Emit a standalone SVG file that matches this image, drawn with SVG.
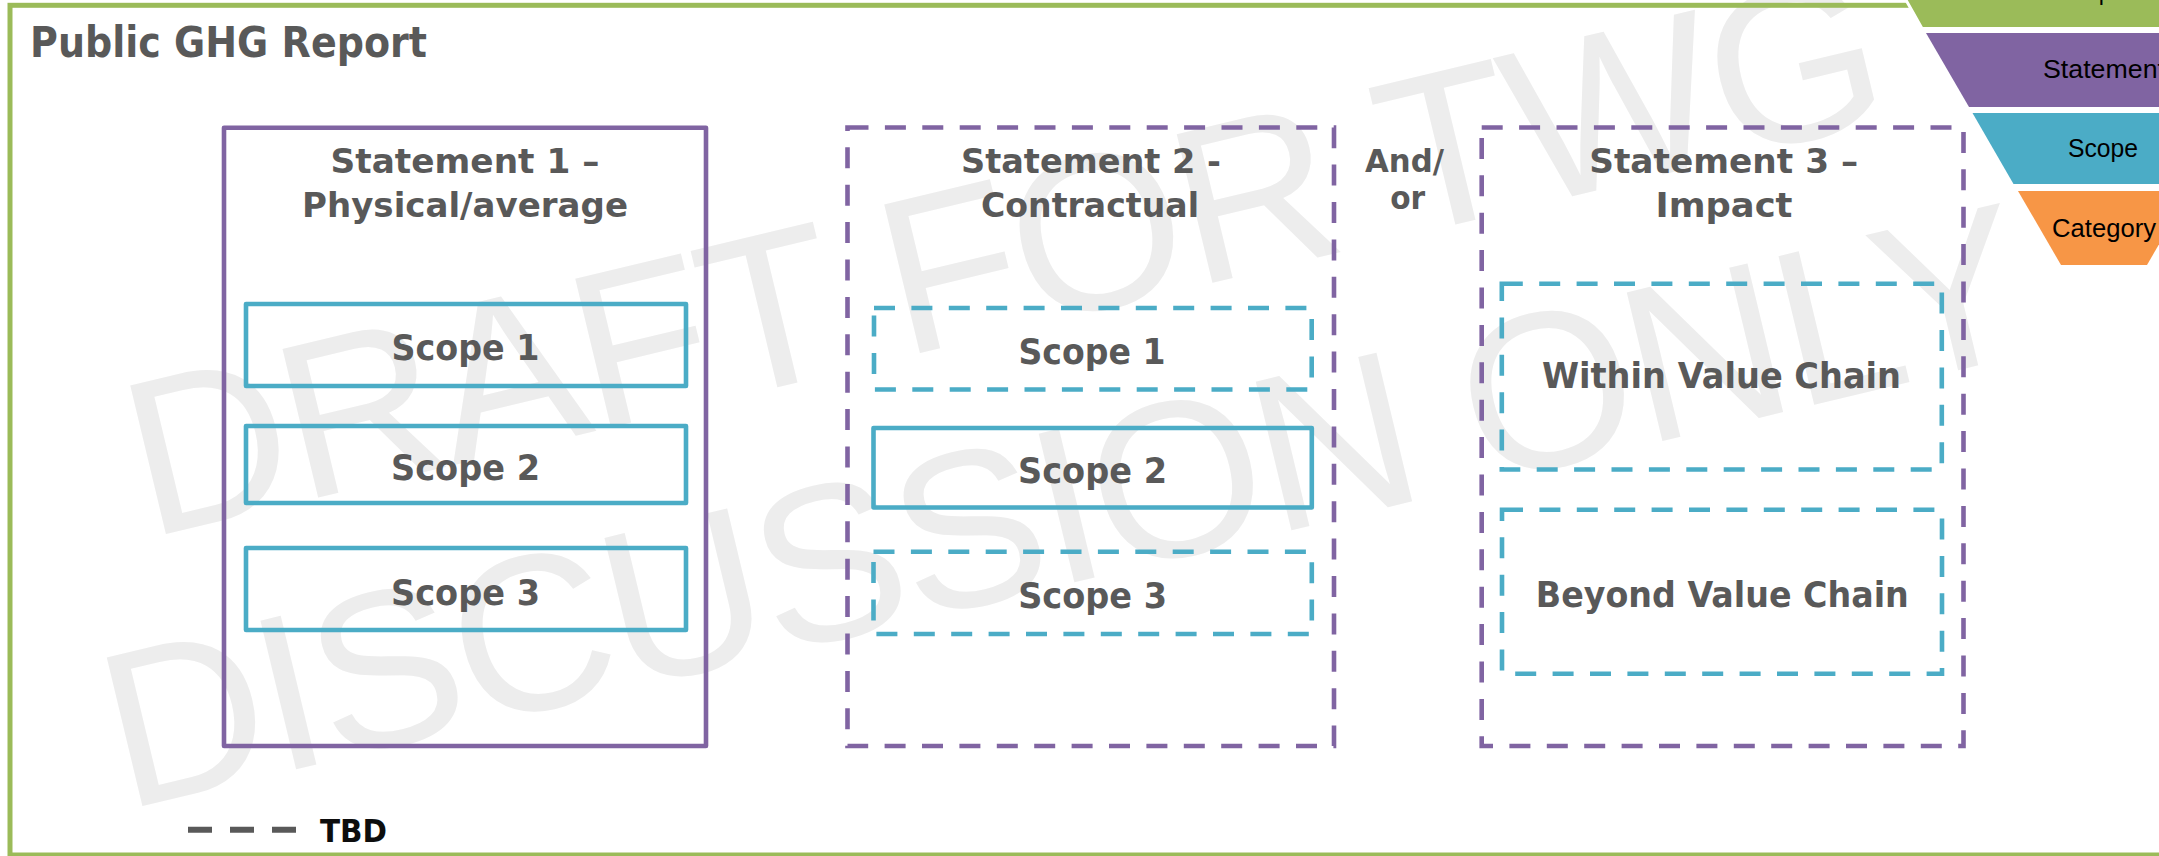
<svg xmlns="http://www.w3.org/2000/svg" width="2159" height="856" viewBox="0 0 2159 856">
  <style>
    .lbl { font-family: "DejaVu Sans", "Liberation Sans", sans-serif; font-weight: bold; fill: #595959; text-anchor: middle; }
    .key { font-family: "Liberation Sans", Arial, sans-serif; font-size: 25px; fill: #000000; text-anchor: middle; }
    .stmt { fill: none; stroke: #8064A2; stroke-width: 4.6; stroke-linejoin: round; }
    .scope { fill: none; stroke: #4BACC6; stroke-width: 4.6; stroke-linejoin: round; }
    .dash { stroke-dasharray: 21 16.4; stroke-linejoin: miter; }
    .wm { font-family: "Liberation Sans", Arial, sans-serif; font-size: 222px; fill: #EDEDED; text-anchor: middle; }
  </style>

  <rect x="0" y="0" width="2159" height="856" fill="#FFFFFF"/>

  <!-- watermark -->
  <g id="watermark" transform="translate(1022,328.5) rotate(-13.5)">
    <text class="wm" x="0" y="0" textLength="1797">DRAFT FOR TWG</text>
    <text class="wm" x="0" y="259" textLength="1970">DISCUSSION ONLY</text>
  </g>

  <!-- report frame -->
  <g id="report">
    <rect x="10" y="5.3" width="2260" height="849.7" fill="none" stroke="#9BBB59" stroke-width="5"/>
    <text class="lbl" x="30" y="57" font-size="42" text-anchor="start" style="text-anchor:start" textLength="397" lengthAdjust="spacingAndGlyphs">Public GHG Report</text>
  </g>

  <!-- hierarchy key (funnel) -->
  <g id="key">
    <g id="key-report">
      <polygon points="1879,-48 2329,-48 2286,28.5 1922,28.5" fill="#9BBB59" stroke="#FFFFFF" stroke-width="3"/>
      <text class="key" x="2104" y="-0.5" textLength="70" lengthAdjust="spacingAndGlyphs">Report</text>
    </g>
    <g id="key-statement">
      <polygon points="1926,33 2282,33 2239,107 1969,107" fill="#8064A2"/>
      <text class="key" x="2104" y="78.3" textLength="122" lengthAdjust="spacingAndGlyphs">Statement</text>
    </g>
    <g id="key-scope">
      <polygon points="1972.5,113 2235.5,113 2194.5,184 2013.5,184" fill="#4BACC6"/>
      <text class="key" x="2103" y="156.7" textLength="70" lengthAdjust="spacingAndGlyphs">Scope</text>
    </g>
    <g id="key-category">
      <polygon points="2018,191 2190,191 2147,265 2061,265" fill="#F79646"/>
      <text class="key" x="2104" y="236.7" textLength="104" lengthAdjust="spacingAndGlyphs">Category</text>
    </g>
  </g>

  <!-- Statement 1 -->
  <g id="statement1">
    <rect class="stmt" x="224" y="127.7" width="482" height="618.3"/>
    <text class="lbl" x="465" y="173" font-size="34.5" textLength="269" lengthAdjust="spacingAndGlyphs">Statement 1 –</text>
    <text class="lbl" x="465" y="217.3" font-size="34.5" textLength="326" lengthAdjust="spacingAndGlyphs">Physical/average</text>
  </g>
  <g id="s1-scope1">
    <rect class="scope" x="246" y="304" width="440" height="82"/>
    <text class="lbl" x="465.5" y="360" font-size="35" textLength="148" lengthAdjust="spacingAndGlyphs">Scope 1</text>
  </g>
  <g id="s1-scope2">
    <rect class="scope" x="246" y="426" width="440" height="77"/>
    <text class="lbl" x="465.5" y="480" font-size="35" textLength="149" lengthAdjust="spacingAndGlyphs">Scope 2</text>
  </g>
  <g id="s1-scope3">
    <rect class="scope" x="246" y="548" width="440" height="82"/>
    <text class="lbl" x="465.5" y="605" font-size="35" textLength="149" lengthAdjust="spacingAndGlyphs">Scope 3</text>
  </g>

  <!-- Statement 2 -->
  <g id="statement2">
    <rect class="stmt dash" x="847.5" y="127.5" width="486.5" height="618.5"/>
    <text class="lbl" x="1091" y="172.7" font-size="34.5" textLength="260" lengthAdjust="spacingAndGlyphs">Statement 2 -</text>
    <text class="lbl" x="1090" y="217.3" font-size="34.5" textLength="218" lengthAdjust="spacingAndGlyphs">Contractual</text>
  </g>
  <g id="s2-scope1">
    <rect class="scope dash" x="874" y="308" width="437.7" height="81.5"/>
    <text class="lbl" x="1092" y="364" font-size="35" textLength="147" lengthAdjust="spacingAndGlyphs">Scope 1</text>
  </g>
  <g id="s2-scope2">
    <rect class="scope" x="873.5" y="428" width="438.3" height="79.5"/>
    <text class="lbl" x="1092.5" y="483.3" font-size="35" textLength="149" lengthAdjust="spacingAndGlyphs">Scope 2</text>
  </g>
  <g id="s2-scope3">
    <rect class="scope dash" x="873.5" y="551.7" width="438.3" height="82.3"/>
    <text class="lbl" x="1092.7" y="608.3" font-size="35" textLength="149" lengthAdjust="spacingAndGlyphs">Scope 3</text>
  </g>

  <!-- conjunction between statements 2 and 3 -->
  <g id="and-or">
    <text class="lbl" x="1404.5" y="172" font-size="31.5" textLength="79" lengthAdjust="spacingAndGlyphs">And/</text>
    <text class="lbl" x="1407.7" y="209" font-size="31.5" textLength="35" lengthAdjust="spacingAndGlyphs">or</text>
  </g>

  <!-- Statement 3 -->
  <g id="statement3">
    <rect class="stmt dash" x="1481.7" y="127.5" width="481.8" height="618.5"/>
    <text class="lbl" x="1723.7" y="173.3" font-size="34.5" textLength="269" lengthAdjust="spacingAndGlyphs">Statement 3 –</text>
    <text class="lbl" x="1724" y="217.3" font-size="34.5" textLength="137" lengthAdjust="spacingAndGlyphs">Impact</text>
  </g>
  <g id="s3-within">
    <rect class="scope dash" x="1501.8" y="283.8" width="440" height="185.7"/>
    <text class="lbl" x="1721.5" y="388" font-size="35" textLength="359" lengthAdjust="spacingAndGlyphs">Within Value Chain</text>
  </g>
  <g id="s3-beyond">
    <rect class="scope dash" x="1502" y="509.7" width="440" height="164"/>
    <text class="lbl" x="1722.3" y="606.7" font-size="35" textLength="373" lengthAdjust="spacingAndGlyphs">Beyond Value Chain</text>
  </g>

  <!-- line-style legend -->
  <g id="legend">
    <line x1="188" y1="829.7" x2="296" y2="829.7" stroke="#595959" stroke-width="6" stroke-dasharray="24 18"/>
    <text class="lbl" x="320" y="842" font-size="32" style="text-anchor:start; fill:#0D0D0D" textLength="67" lengthAdjust="spacingAndGlyphs">TBD</text>
  </g>

  <!-- no connectors are drawn between these boxes -->
  <g id="connectors"/>
</svg>
